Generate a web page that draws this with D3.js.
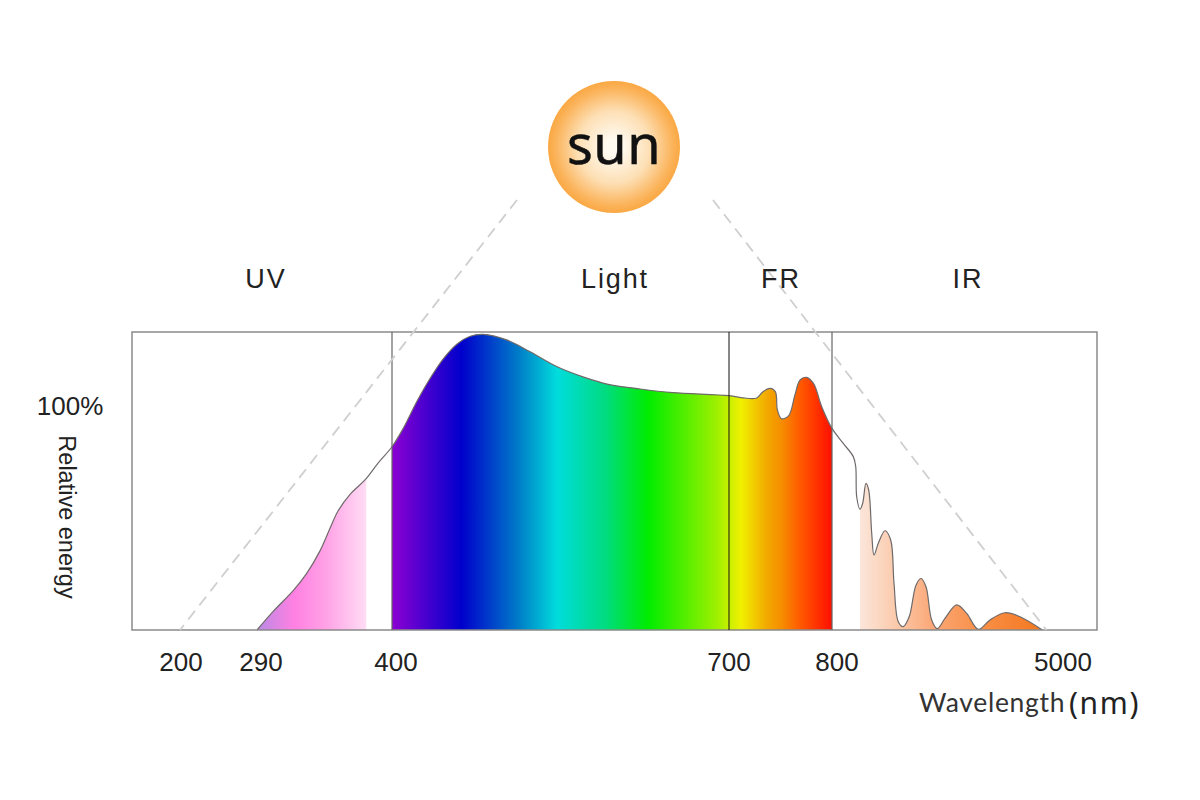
<!DOCTYPE html>
<html>
<head>
<meta charset="utf-8">
<script src="https://cdn.jsdelivr.net/npm/d3@7/dist/d3.min.js"></script>
<style>
    html, body { margin: 0; padding: 0; background: #fff; }
    svg { display: block; }
    text { fill: #222; font-family: "Liberation Sans", sans-serif; }
</style>
</head>
<body>
<svg id="chart" width="1200" height="800"></svg>
<script>
// wavelength axis is not linear, each band has its own stretch
const tickLabels = [200, 290, 400, 700, 800, 5000];
const bandEdges = [400, 700, 800];
const regionNames = ["UV", "Light", "FR", "IR"];

const wavelengths = [290, 303, 320, 330.5, 341, 349.5, 356, 366, 378, 388.5, 400,
    410, 422, 434, 446, 458, 469, 481, 502, 523, 547, 570, 591.5, 621, 650, 700,
    714, 727, 733, 740, 745, 747, 751, 758, 764, 769, 775, 782, 790, 800,
    1005, 1187, 1231, 1249, 1309, 1358, 1418, 1467, 1522, 1564, 1642, 1764, 1867,
    1927, 2005, 2096, 2205, 2327, 2418, 2509, 2612, 2714, 2854, 3067, 3249, 3460,
    3672, 3945, 4218, 4624];
const energy = [0, 8.2, 17.9, 25.3, 35, 45.4, 53.1, 60.7, 67, 74.4, 81.8,
    90, 101.9, 112.4, 121.3, 127.7, 131, 132, 129.5, 124.2, 117.5, 113, 109.8, 107.6, 106, 104.6,
    103.6, 103.6, 106.4, 107.9, 106.4, 98.2, 94.3, 95.7, 104.9, 111.6, 112.8, 110.1, 99.7, 90,
    83.3, 77.4, 73, 59.5, 53.9, 56.6, 65.5, 62.5, 43.2, 33.5, 38.7, 44.3, 40.2,
    21, 3.7, 1.5, 6, 20, 23, 19.3, 4.5, 0.6, 5.2, 11.2, 7.4, 0.3,
    4.5, 7.7, 5.9, 0];

// coloured parts of the curve, the rest stays white
const filledBands = [[290, 379], [400, 800], [1309, 4624]];
const colorStops = [290, 320, 345, 379, 400, 462, 514, 547, 590, 628, 690, 700, 712, 737, 750, 769, 786, 800,
    1309, 2005, 2612, 3460, 4624];
const colorValues = ["#b98ae6", "#ff80e2", "#ffa0e6", "#ffdcf4", "#8c00d2", "#0000cc", "#0080c8", "#00dcdc",
    "#00dc80", "#00ec00", "#a0f000", "#c8f000", "#f0f000", "#f2a800", "#f59000", "#ff5a00", "#ff3000", "#ff1000",
    "#fbe6da", "#fbc8a8", "#fba878", "#f99048", "#f47820"];

const svg = d3.select("#chart");

const x = d3.scaleLinear()
    .domain([200, 290, 400, 700, 800, 5000])
    .range([180, 257, 392, 729, 832, 1063]);
const y = d3.scaleLinear().domain([0, 100]).range([630, 406]);
const labelX = d3.scaleOrdinal(tickLabels, [181, 261, 396, 729, 837, 1063]);

const frame = { left: 132, right: 1097, top: 332, bottom: y(0) };
const sun = { cx: 614, cy: 147, r: 66 };

const points = wavelengths.map((w, i) => [w, energy[i]]);

const defs = svg.append("defs");

const grad = defs.append("linearGradient").attr("id", "spectrum")
    .attr("gradientUnits", "userSpaceOnUse")
    .attr("x1", frame.left).attr("x2", frame.right).attr("y1", 0).attr("y2", 0);
colorStops.forEach((w, i) => {
    grad.append("stop")
        .attr("offset", (x(w) - frame.left) / (frame.right - frame.left))
        .attr("stop-color", colorValues[i]);
});

const sunGrad = defs.append("radialGradient").attr("id", "sun-fill");
sunGrad.append("stop").attr("offset", "0.12").attr("stop-color", "#fffaf0");
sunGrad.append("stop").attr("offset", "0.55").attr("stop-color", "#fddfb4");
sunGrad.append("stop").attr("offset", "0.88").attr("stop-color", "#fbb45c");
sunGrad.append("stop").attr("offset", "1").attr("stop-color", "#faa843");

filledBands.forEach((b, i) => {
    defs.append("clipPath").attr("id", "band-" + i).append("rect")
        .attr("x", x(b[0])).attr("width", x(b[1]) - x(b[0]))
        .attr("y", frame.top).attr("height", frame.bottom - frame.top);
});

const curve = d3.curveCatmullRom.alpha(0.5);
const area = d3.area().x(d => x(d[0])).y0(y(0)).y1(d => y(d[1])).curve(curve);
const line = d3.line().x(d => x(d[0])).y(d => y(d[1])).curve(curve);

// fills first, frame and curve go on top
filledBands.forEach((b, i) => {
    svg.append("path").datum(points)
        .attr("d", area)
        .attr("fill", "url(#spectrum)")
        .attr("clip-path", "url(#band-" + i + ")");
});

svg.append("path").datum(points)
    .attr("d", line)
    .attr("fill", "none").attr("stroke", "#6f6a6a").attr("stroke-width", 1.2);

svg.append("rect")
    .attr("x", frame.left).attr("y", frame.top)
    .attr("width", frame.right - frame.left).attr("height", frame.bottom - frame.top)
    .attr("fill", "none").attr("stroke", "#8a8a8a").attr("stroke-width", 1.5);

svg.selectAll(".edge").data(bandEdges).join("line")
    .attr("class", "edge")
    .attr("x1", d => x(d)).attr("x2", d => x(d))
    .attr("y1", frame.top).attr("y2", frame.bottom)
    .attr("stroke", d => d === 700 ? "#111" : "#666")
    .attr("stroke-width", d => d === 700 ? 1 : 1.2);

// dashed rays from the sun down to the baseline
const rays = [[517, 200, x(200), y(0)], [713, 200, x(4700), y(0)]];
svg.selectAll(".ray").data(rays).join("line")
    .attr("class", "ray")
    .attr("x1", d => d[0]).attr("y1", d => d[1])
    .attr("x2", d => d[2]).attr("y2", d => d[3])
    .attr("stroke", "#cfcfcf").attr("stroke-width", 1.8)
    .attr("stroke-dasharray", "11 7");

svg.append("circle")
    .attr("cx", sun.cx).attr("cy", sun.cy).attr("r", sun.r)
    .attr("fill", "url(#sun-fill)");

svg.append("text")
    .attr("x", sun.cx).attr("y", 164)
    .attr("text-anchor", "middle")
    .style("font-family", "'Noto Sans'")
    .style("font-size", "54px")
    .style("letter-spacing", "0.5px")
    .style("fill", "#111")
    .style("stroke", "#111")
    .style("stroke-width", 0.5)
    .text("sun");

const regionX = d3.scaleOrdinal(regionNames, [266, 615, 781, 968]);
svg.selectAll(".region").data(regionNames).join("text")
    .attr("class", "region")
    .attr("x", d => regionX(d)).attr("y", 288)
    .attr("text-anchor", "middle")
    .style("font-size", "27px")
    .style("letter-spacing", "1.9px")
    .text(d => d);

svg.selectAll(".tick-label").data(tickLabels).join("text")
    .attr("class", "tick-label")
    .attr("x", d => labelX(d)).attr("y", 671)
    .attr("text-anchor", "middle")
    .style("font-size", "26px")
    .text(d => d);

svg.append("text")
    .attr("x", 70).attr("y", y(100) + 9)
    .attr("text-anchor", "middle")
    .style("font-size", "26px")
    .text("100%");

svg.append("text")
    .attr("transform", "translate(59,517) rotate(90)")
    .attr("text-anchor", "middle")
    .style("font-size", "23.5px")
    .text("Relative energy");

svg.append("text")
    .attr("x", 919).attr("y", 712)
    .style("font-family", "Lato")
    .style("font-size", "26.5px")
    .style("letter-spacing", "0.7px")
    .style("fill", "#333")
    .text("Wavelength");

svg.append("text")
    .attr("x", 1069).attr("y", 714)
    .style("font-family", "'Noto Sans'")
    .style("font-size", "30px")
    .style("letter-spacing", "1.6px")
    .text("(nm)");
</script>
</body>
</html>
